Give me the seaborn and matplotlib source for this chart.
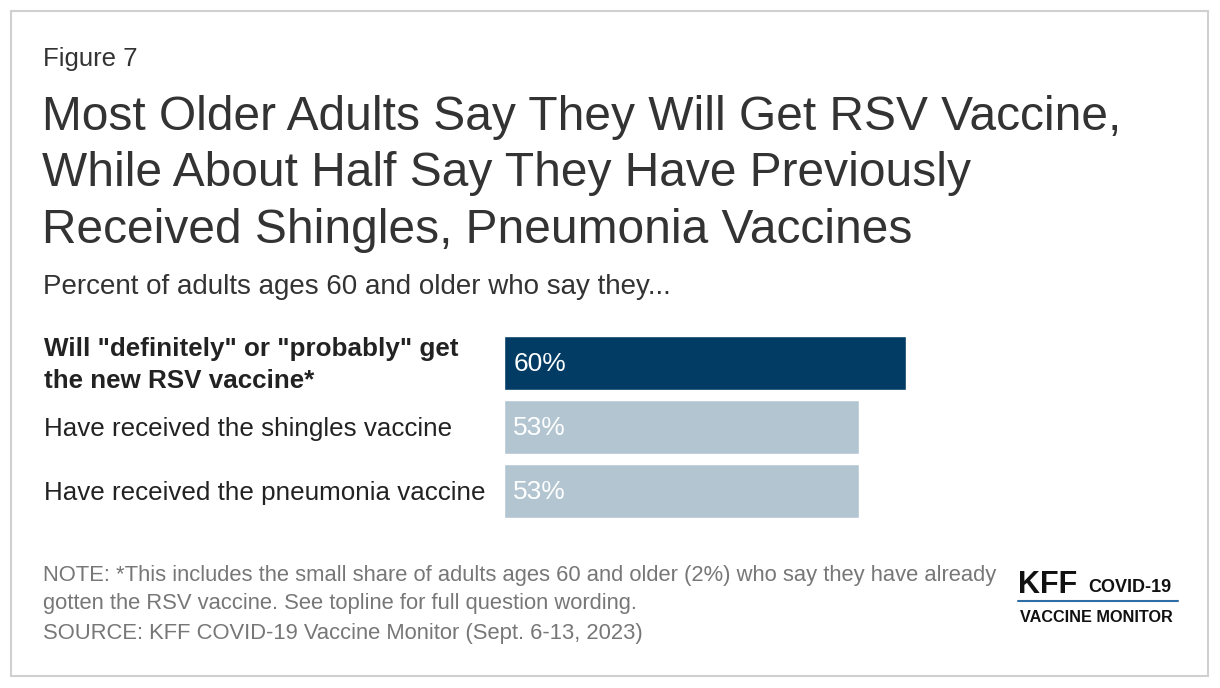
import matplotlib
matplotlib.use('Agg')
import matplotlib.pyplot as plt
import seaborn as sns
import pandas as pd
from matplotlib.patches import Rectangle
from matplotlib.lines import Line2D

# Data
categories = ['Will "definitely" or "probably" get\nthe new RSV vaccine*',
              'Have received the shingles vaccine',
              'Have received the pneumonia vaccine']
values = [60, 53, 53]
bar_colors = ['#023c64', '#b2c5d1', '#b2c5d1']

df = pd.DataFrame({'label': categories, 'pct': values})

sns.set_theme(style='white')
plt.rcParams['font.family'] = ['Liberation Sans', 'DejaVu Sans']

W, H = 1220, 688
fig = plt.figure(figsize=(W / 100, H / 100), dpi=100)


def fx(px):
    return px / W


def fy(py):
    return 1 - py / H


# outer border
fig.patches.append(Rectangle((fx(11), fy(676)), fx(1208) - fx(11), fy(11) - fy(676),
                             transform=fig.transFigure, fill=False,
                             edgecolor='#d0d0d0', linewidth=1.5))

# header text
fig.text(fx(43), fy(59), 'Figure 7', fontsize=18.5, color='#333333', va='center')
fig.text(fx(42), fy(174),
         'Most Older Adults Say They Will Get RSV Vaccine,\n'
         'While About Half Say They Have Previously\n'
         'Received Shingles, Pneumonia Vaccines',
         fontsize=34.5, color='#333333', va='center', linespacing=1.34)
fig.text(fx(43), fy(287), 'Percent of adults ages 60 and older who say they...',
         fontsize=20, color='#333333', va='center')

# bar chart
ax = fig.add_axes([fx(504), fy(523), fx(1174) - fx(504), fy(331) - fy(523)])
sns.barplot(data=df, x='pct', y='label', hue='label', palette=bar_colors,
            legend=False, width=0.84, ax=ax, saturation=1)
ax.set_xlim(0, 100)
ax.set_ylim(2.5, -0.5)
ax.set_xlabel('')
ax.set_ylabel('')
ax.set_xticks([])
ax.set_yticks([])
for s in ax.spines.values():
    s.set_visible(False)
ax.patch.set_alpha(0)

# x position of the left-hand labels, in data units
x_disp = fig.transFigure.transform((fx(44), 0))[0]
x_lab = ax.transData.inverted().transform((x_disp, 0))[0]

for i, (lab, v) in enumerate(zip(categories, values)):
    ax.text(1.4, i + 0.02, f'{v}%', color='white', fontsize=19, va='center', ha='left')
    ax.text(x_lab, i + 0.03, lab, fontsize=18.7, color='#222222', clip_on=False,
            va='center', ha='left', fontweight='bold' if i == 0 else 'normal',
            linespacing=1.45)

# notes
note_color = '#777777'
fig.text(fx(43), fy(575),
         'NOTE: *This includes the small share of adults ages 60 and older (2%) who say they have already',
         fontsize=15.8, color=note_color, va='center')
fig.text(fx(43), fy(603), 'gotten the RSV vaccine. See topline for full question wording.',
         fontsize=15.8, color=note_color, va='center')
fig.text(fx(43), fy(633), 'SOURCE: KFF COVID-19 Vaccine Monitor (Sept. 6-13, 2023)',
         fontsize=15.8, color=note_color, va='center')

# logo
fig.text(fx(1018), fy(585), 'KFF', fontsize=22, fontweight='bold', color='#111111',
         va='center', ha='left')
fig.text(fx(1088), fy(588), 'COVID-19', fontsize=13, fontweight='bold', color='#111111',
         va='center', ha='left')
fig.lines.append(Line2D([fx(1018), fx(1178)], [fy(601), fy(601)],
                        transform=fig.transFigure, color='#2f6ea5', linewidth=1.5))
fig.text(fx(1020), fy(618), 'VACCINE MONITOR', fontsize=11.7, fontweight='bold',
         color='#111111', va='center', ha='left')

fig.savefig('out.png', dpi=100, facecolor='white')
